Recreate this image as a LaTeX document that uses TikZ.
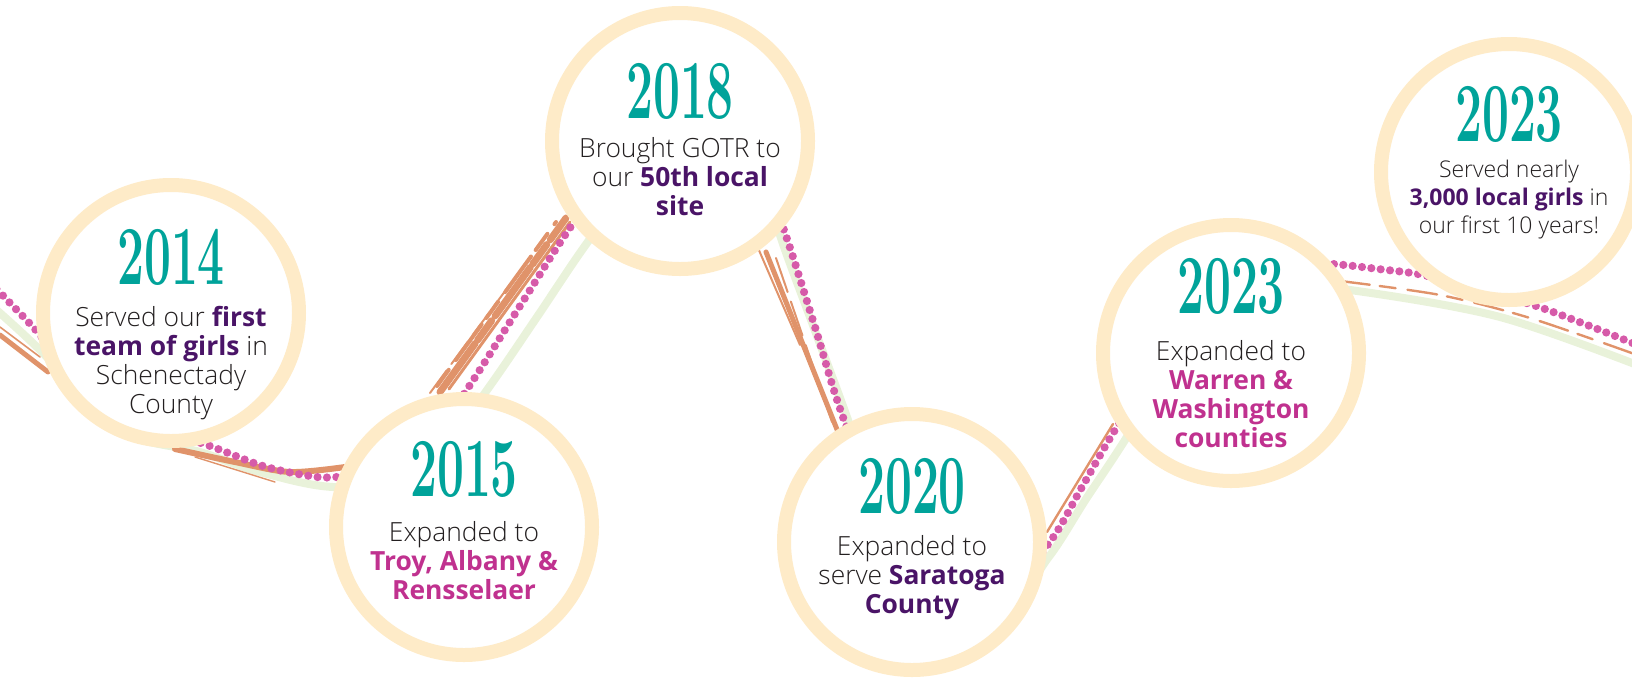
\documentclass[tikz,border=0pt]{standalone}
\usepackage{fontspec}
\usepackage{xcolor}
\usepackage{tikz}
\usetikzlibrary{calc}
\newfontfamily\opensans{Open Sans}
\newfontfamily\opensanslight{Open Sans Light}
\definecolor{ringcream}{HTML}{FEEBC8}
\definecolor{yearteal}{HTML}{00A39A}
\definecolor{deeppurple}{HTML}{4A1467}
\definecolor{boldmagenta}{HTML}{C0318F}
\definecolor{inkblack}{HTML}{231F20}
\definecolor{pinkdot}{HTML}{D65BA9}
\definecolor{greenline}{HTML}{E9F2DA}
\definecolor{brushorange}{HTML}{E0936A}
\newcommand\kpurple[1]{{\opensans\bfseries\color{deeppurple}#1}}
\newcommand\kmagenta[1]{{\opensans\bfseries\color{boldmagenta}#1}}
\newcommand\yeartext[1]{\scalebox{0.57}[1]{#1}}
\tikzset{
  ring/.style = {circle, draw = ringcream, line width = 7pt, fill = white, minimum size = 128pt, inner sep = 0pt},
  year/.style = {text = yearteal, font = \fontsize{42}{42}\selectfont\bfseries, inner sep = 0pt},
  blurb/.style = {align = center, text = inkblack, font = \opensanslight\fontsize{13.2}{14.5}\selectfont, inner sep = 0pt, anchor = base},
  smallblurb/.style = {blurb, font = \opensanslight\fontsize{11.5}{14}\selectfont},
  dots/.style = {draw = pinkdot, line width = 4.1pt, line cap = round, dash pattern = on 0pt off 4.7pt},
  brush/.style = {draw = brushorange, line cap = round}
}

\begin{document}
\begin{tikzpicture}[x = 0.5pt, y = -0.5pt]
        \useasboundingbox (0,0) rectangle (1632,681);
        \path [draw = greenline, line width = 4pt] plot [smooth, tension = 0.55] coordinates {(-10,305) (0,313) (40,350) (120,430) (200,452) (260,472) (333,487) (420,480) (487,390) (537,317) (587,243) (650,160) (720,130) (770,190) (780,235) (814,328) (848,420) (900,570) (1000,610) (1048,558) (1086,499) (1125,440) (1200,320) (1290,288) (1350,290) (1500,317) (1645,368)};
        \path [brush, line width = 2.5pt] (0,335) -- (48,372);
        \path [brush, line width = 0.8pt] (0,327) -- (40,357);
        \path [brush, line width = 3pt] plot [smooth] coordinates {(175,449) (235,462) (290,472) (345,467)};
        \path [brush, line width = 0.7pt] (195,457) -- (275,482);
        \path [brush, line width = 3.5pt, dash pattern = on 30pt off 2pt on 12pt off 3pt] (440,392) -- (566,218);
        \path [brush, line width = 1.5pt] (449,389) -- (570,222);
        \path [brush, line width = 1pt, dash pattern = on 14pt off 4pt] (430,393) -- (525,264);
        \path [brush, line width = 2pt, dash pattern = on 10pt off 6pt on 22pt off 4pt] (437,386) -- (556,222);
        \path [brush, line width = 2.5pt] (766,252) -- (838,432);
        \path [brush, line width = 1pt] (758,248) -- (800,345);
        \path [brush, line width = 1pt, dash pattern = on 18pt off 5pt] (776,258) -- (832,422);
        \path [brush, line width = 1.2pt] (1047,532) -- (1113,424);
        \path [brush, line width = 1.2pt, dash pattern = on 15pt off 5pt on 8pt off 6pt] plot [smooth] coordinates {(1340,281) (1440,295) (1530,318) (1640,356)};
        \path [dots] plot [smooth, tension = 0.55] coordinates {(-10,282) (10,303) (33,327) (110,410) (210,446) (263,466) (310,476) (337,477) (410,470) (468,388) (520,306) (572,225) (630,150) (700,120) (760,170) (785,233) (815,327) (844,420) (900,560) (995,600) (1049,543) (1082,487) (1115,430) (1190,310) (1280,262) (1333,264) (1378,269) (1423,275) (1478,290) (1533,305) (1582,323) (1640,346)};
        \node (c2014) at (171,313) [ring] {};
        \node (c2015) at (464,527) [ring] {};
        \node (c2018) at (680,141) [ring] {};
        \node (c2020) at (912,542) [ring] {};
        \node (c2023a) at (1231,353) [ring] {};
        \node (c2023b) at (1509,172) [ring] {};
        \node (y2014) at ($(c2014)+(0,-56)$) [year] {\yeartext{2014}};
        \node (y2015) at ($(c2015)+(0,-58)$) [year] {\yeartext{2015}};
        \node (y2018) at ($(c2018)+(0,-50)$) [year] {\yeartext{2018}};
        \node (y2020) at ($(c2020)+(0,-56)$) [year] {\yeartext{2020}};
        \node (y2023a) at ($(c2023a)+(0,-67)$) [year] {\yeartext{2023}};
        \node (y2023b) at ($(c2023b)+(0,-58)$) [year] {\yeartext{2023}};
        \node (t2014) at ($(c2014)+(0,100)$) [blurb] {Served our \kpurple{first}\\\kpurple{team of girls} in\\Schenectady\\County};
        \node (t2015) at ($(c2015)+(0,72)$) [blurb] {Expanded to\\\kmagenta{Troy, Albany \&}\\\kmagenta{Rensselaer}};
        \node (t2018) at ($(c2018)+(0,74)$) [blurb] {Brought GOTR to\\our \kpurple{50th local}\\\kpurple{site}};
        \node (t2020) at ($(c2020)+(0,71)$) [blurb] {Expanded to\\serve \kpurple{Saratoga}\\\kpurple{County}};
        \node (t2023a) at ($(c2023a)+(0,94)$) [blurb] {Expanded to\\\kmagenta{Warren \&}\\\kmagenta{Washington}\\\kmagenta{counties}};
        \node (t2023b) at ($(c2023b)+(0,61)$) [smallblurb] {Served nearly\\\kpurple{3,000 local girls} in\\our first 10 years!};
    \end{tikzpicture}
\end{document}
